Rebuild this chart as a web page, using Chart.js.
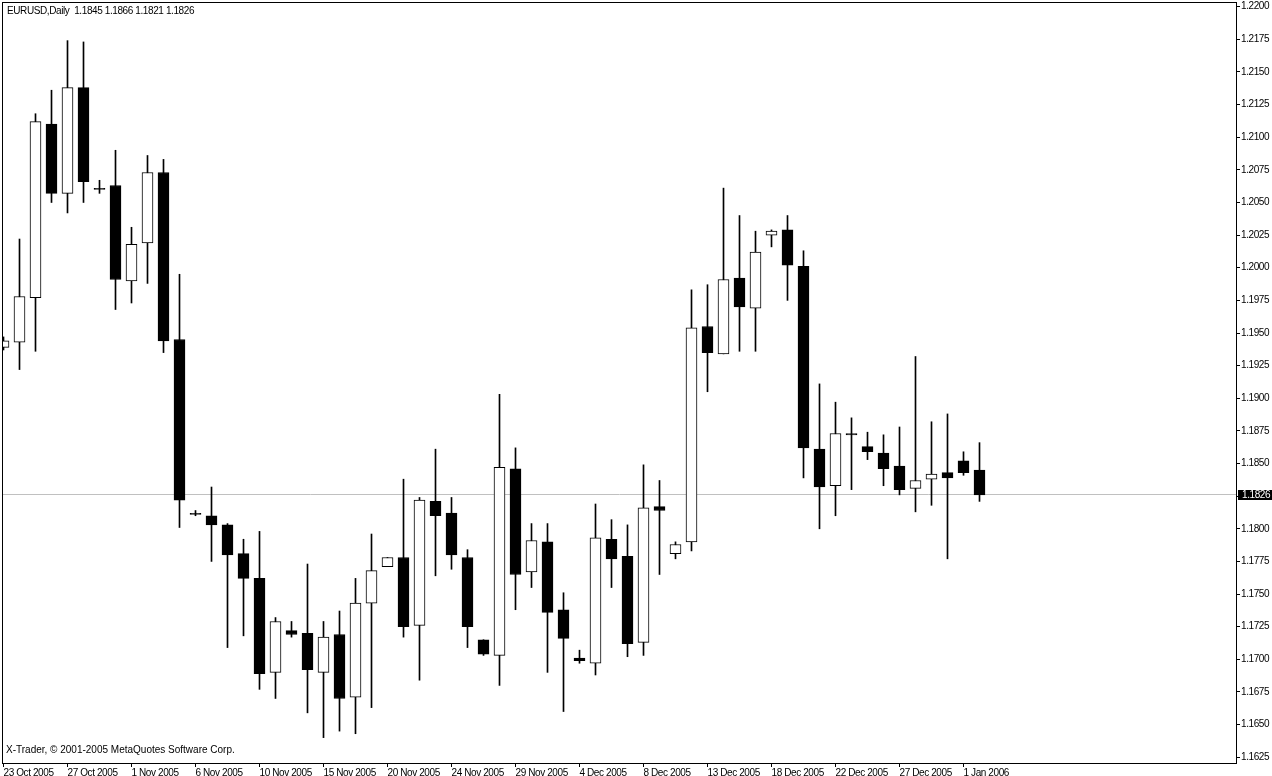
<!DOCTYPE html>
<html>
<head>
<meta charset="utf-8">
<title>EURUSD,Daily</title>
<script src="https://cdn.jsdelivr.net/npm/chart.js@4/dist/chart.umd.min.js"></script>
<style>
  html, body { margin: 0; padding: 0; background: #fff; }
  #wrap { width: 1272px; height: 776px; }
</style>
</head>
<body>
<div id="wrap"><canvas id="chart" width="1272" height="776"></canvas></div>
<script>
const symbol = "EURUSD,Daily";
const copyright = "X-Trader, \u00a9 2001-2005 MetaQuotes Software Corp.";

// daily bars, oldest first (bar 0 = 23 Oct 2005)
const opens = [
  1.1939, 1.1943, 1.1977, 1.2110, 1.2057, 1.2138, 1.2060, 1.2063, 1.1990, 1.2019,
  1.2073, 1.1945, 1.1811, 1.1810, 1.1803, 1.1781, 1.1762, 1.1690, 1.1722, 1.1720,
  1.1690, 1.1719, 1.1671, 1.1743, 1.1771, 1.1778, 1.1726, 1.1821, 1.1812, 1.1778,
  1.1715, 1.1703, 1.1846, 1.1767, 1.1790, 1.1738, 1.1701, 1.1697, 1.1792, 1.1779,
  1.1713, 1.1817, 1.1781, 1.1790, 1.1955, 1.1934, 1.1992, 1.1969, 1.2025, 1.2029,
  1.2001, 1.1861, 1.1833, 1.1873, 1.1863, 1.1858, 1.1848, 1.1831, 1.1838, 1.1843,
  1.1852, 1.1845
];
const highs = [
  1.1947, 1.2022, 1.2118, 1.2136, 1.2174, 1.2173, 1.2067, 1.2090, 1.2031, 1.2086,
  1.2083, 1.1995, 1.1814, 1.1832, 1.1804, 1.1792, 1.1798, 1.1732, 1.1729, 1.1773,
  1.1729, 1.1737, 1.1762, 1.1796, 1.1778, 1.1838, 1.1824, 1.1861, 1.1824, 1.1784,
  1.1715, 1.1903, 1.1862, 1.1804, 1.1804, 1.1751, 1.1707, 1.1819, 1.1807, 1.1803,
  1.1849, 1.1837, 1.1790, 1.1983, 1.1987, 1.2061, 1.2040, 1.2028, 1.2029, 1.2040,
  1.2013, 1.1911, 1.1897, 1.1885, 1.1874, 1.1872, 1.1878, 1.1932, 1.1882, 1.1888,
  1.1859, 1.1866
];
const lows = [
  1.1937, 1.1922, 1.1936, 1.2050, 1.2042, 1.2050, 1.2057, 1.1968, 1.1973, 1.1988,
  1.1935, 1.1801, 1.1810, 1.1775, 1.1709, 1.1718, 1.1677, 1.1670, 1.1717, 1.1659,
  1.1640, 1.1645, 1.1643, 1.1663, 1.1771, 1.1717, 1.1684, 1.1764, 1.1769, 1.1709,
  1.1703, 1.1680, 1.1738, 1.1755, 1.1690, 1.1660, 1.1697, 1.1688, 1.1755, 1.1702,
  1.1703, 1.1765, 1.1777, 1.1783, 1.1905, 1.1934, 1.1936, 1.1936, 1.2016, 1.1975,
  1.1839, 1.1800, 1.1810, 1.1830, 1.1853, 1.1833, 1.1826, 1.1813, 1.1818, 1.1777,
  1.1841, 1.1821
];
const closes = [
  1.1944, 1.1978, 1.2112, 1.2057, 1.2138, 1.2066, 1.2060, 1.1991, 1.2018, 1.2073,
  1.1944, 1.1822, 1.1811, 1.1803, 1.1780, 1.1762, 1.1689, 1.1729, 1.1719, 1.1692,
  1.1717, 1.1670, 1.1743, 1.1768, 1.1778, 1.1725, 1.1822, 1.1810, 1.1780, 1.1725,
  1.1704, 1.1847, 1.1765, 1.1791, 1.1736, 1.1716, 1.1699, 1.1793, 1.1777, 1.1712,
  1.1816, 1.1814, 1.1788, 1.1954, 1.1935, 1.1991, 1.1970, 1.2012, 1.2028, 1.2002,
  1.1862, 1.1832, 1.1873, 1.1872, 1.1859, 1.1846, 1.1830, 1.1837, 1.1842, 1.1839,
  1.1843, 1.1826
];

// date axis: a label every 4 bars
const dateTickBars = [0, 4, 8, 12, 16, 20, 24, 28, 32, 36, 40, 44, 48, 52, 56, 60];
const dateLabels = [
  "23 Oct 2005", "27 Oct 2005", "1 Nov 2005", "6 Nov 2005", "10 Nov 2005", "15 Nov 2005",
  "20 Nov 2005", "24 Nov 2005", "29 Nov 2005", "4 Dec 2005", "8 Dec 2005", "13 Dec 2005",
  "18 Dec 2005", "22 Dec 2005", "27 Dec 2005", "1 Jan 2006"
];
const priceTicks = [
  1.1625, 1.1650, 1.1675, 1.1700, 1.1725, 1.1750, 1.1775, 1.1800, 1.1825, 1.1850,
  1.1875, 1.1900, 1.1925, 1.1950, 1.1975, 1.2000, 1.2025, 1.2050, 1.2075, 1.2100,
  1.2125, 1.2150, 1.2175, 1.2200
];

const FONT = "'Liberation Sans', Arial, sans-serif";
const TIGHT = "-0.4px"; // terminal font is narrower on digits
const last = closes.length - 1;
const lastClose = closes[last];
const titleText = symbol + "  " + [opens[last], highs[last], lows[last], closes[last]].map(v => v.toFixed(4)).join(" ");

const bodies = opens.map((o, i) => ({ x: i, y: [o, closes[i]] }));
const wicks = lows.map((l, i) => ({ x: i, y: [l, highs[i]] }));
const bodyFill = opens.map((o, i) => closes[i] > o ? "#ffffff" : "#000000");

// frame, bid line, price label and texts, the way the terminal draws them
const mtFrame = {
  id: "mtFrame",
  beforeDraw(chart) {
    chart.ctx.letterSpacing = TIGHT;
  },
  beforeDatasetsDraw(chart) {
    const { ctx, chartArea: a, scales: { y } } = chart;
    const py = Math.floor(y.getPixelForValue(lastClose)) + 0.5;
    ctx.save();
    ctx.strokeStyle = "#c0c0c0";
    ctx.lineWidth = 1;
    ctx.beginPath();
    ctx.moveTo(a.left, py);
    ctx.lineTo(a.right, py);
    ctx.stroke();
    ctx.restore();
  },
  afterDraw(chart) {
    const { ctx, chartArea: a, scales: { y } } = chart;
    ctx.save();
    ctx.strokeStyle = "#000";
    ctx.lineWidth = 1;
    ctx.strokeRect(a.left + 0.5, a.top + 0.5, a.right - a.left - 1, a.bottom - a.top - 1);

    const py = Math.floor(y.getPixelForValue(lastClose));
    ctx.fillStyle = "#000";
    ctx.fillRect(a.right + 1, py - 4, chart.width - a.right - 1, 10);
    ctx.fillStyle = "#fff";
    ctx.font = "10px " + FONT;
    ctx.textBaseline = "middle";
    ctx.letterSpacing = TIGHT;
    ctx.fillText(lastClose.toFixed(4), a.right + 5, py + 1);

    ctx.fillStyle = "#000";
    ctx.fillText(titleText, a.left + 5, 11);
    ctx.letterSpacing = "0px";
    ctx.fillText(copyright, a.left + 4, 750);
    ctx.restore();
  }
};

new Chart(document.getElementById("chart"), {
  type: "bar",
  data: {
    datasets: [
      {
        label: "body",
        data: bodies,
        backgroundColor: bodyFill,
        borderColor: "#000",
        borderWidth: 1,
        borderSkipped: false,
        barThickness: 11,
        minBarLength: 1,
        grouped: false,
        clip: 0
      },
      {
        label: "wick",
        data: wicks,
        backgroundColor: "#000",
        borderWidth: 0,
        barThickness: 1,
        grouped: false,
        clip: 0
      }
    ]
  },
  options: {
    responsive: false,
    devicePixelRatio: 1,
    animation: false,
    layout: { padding: { left: 2, top: 2, right: 0, bottom: 0 } },
    plugins: { legend: { display: false }, tooltip: { enabled: false } },
    scales: {
      x: {
        type: "linear",
        offset: false,
        min: -0.09375,
        max: 77.09375,
        border: { display: false },
        grid: { offset: false, drawOnChartArea: false, drawTicks: true, tickLength: 3, tickColor: "#000" },
        ticks: {
          autoSkip: false,
          maxRotation: 0,
          align: "start",
          padding: 0,
          color: "#000",
          font: { family: FONT, size: 10 },
          callback: (v) => {
            const k = dateTickBars.indexOf(v);
            return k >= 0 ? dateLabels[k] : "";
          }
        },
        afterBuildTicks: (s) => { s.ticks = dateTickBars.map(v => ({ value: v })); },
        afterFit: (s) => { s.height = 12; s.paddingLeft = 0; s.paddingRight = 0; }
      },
      y: {
        position: "right",
        min: 1.16198,
        max: 1.22036,
        border: { display: false },
        grid: { drawOnChartArea: false, drawTicks: true, tickLength: 3, tickColor: "#000" },
        ticks: {
          padding: 1,
          color: "#000",
          font: { family: FONT, size: 10 },
          callback: (v) => Number(v).toFixed(4)
        },
        afterBuildTicks: (s) => { s.ticks = priceTicks.map(v => ({ value: v })); },
        afterFit: (s) => { s.width = 35; s.paddingTop = 0; s.paddingBottom = 0; }
      }
    }
  },
  plugins: [mtFrame]
});
</script>
</body>
</html>
